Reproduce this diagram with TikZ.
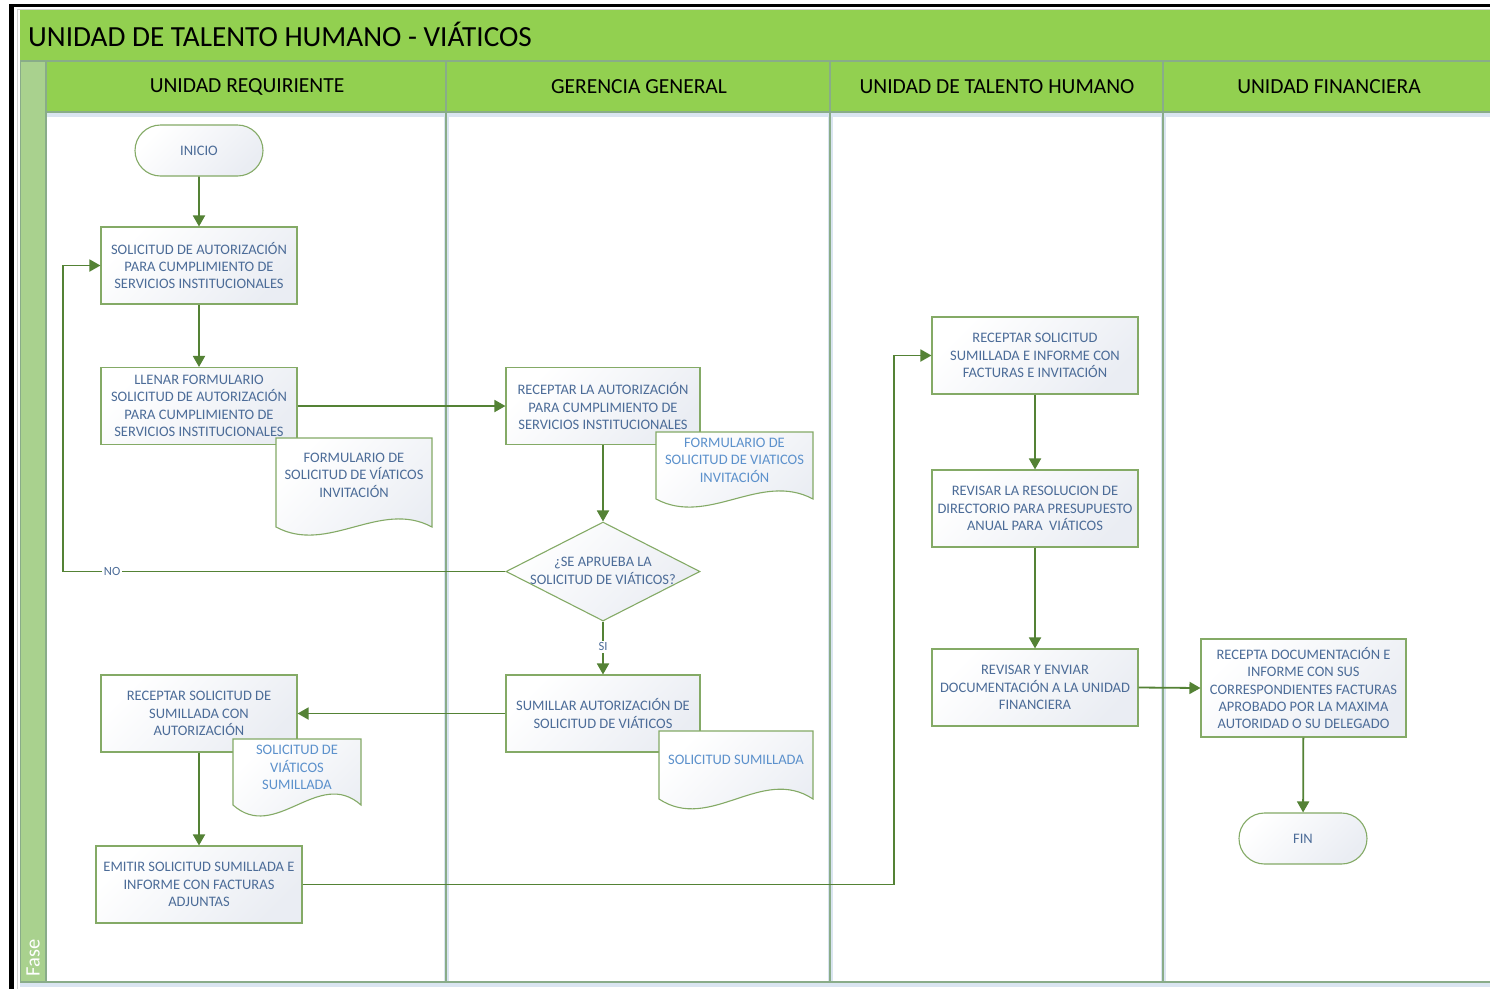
\documentclass[tikz,border=0pt]{standalone}
\usepackage{fontspec}
\setmainfont{Carlito}
\usetikzlibrary{arrows.meta,shapes.geometric,shapes.misc}

\definecolor{titlegreen}{RGB}{146,208,80}
\definecolor{stripgreen}{RGB}{169,209,142}
\definecolor{laneline}{RGB}{137,172,137}
\definecolor{laneglow}{RGB}{218,229,241}
\definecolor{boxline}{RGB}{132,170,102}
\definecolor{boxgray}{RGB}{234,237,243}
\definecolor{boxtext}{RGB}{76,108,152}
\definecolor{doctext}{RGB}{92,145,204}
\definecolor{flowgreen}{RGB}{84,130,53}

\newcommand{\boxfont}{\fontsize{14.5}{17.4}\selectfont}
% document symbol: left x, right x, top y, wave base y, wave depth
\newcommand{\wavedoc}[5]{%
  \path[docshape] (#1,#3) -- (#2,#3) -- (#2,#4)
    .. controls ({#2-(#2-#1)/3},{#4-#5}) and ({#1+(#2-#1)/3},{#4+#5}) .. (#1,#4) -- cycle;}

\begin{document}
\begin{tikzpicture}[x=1pt,y=-1pt,
  proc/.style={draw=boxline, line width=1.1pt, top color=white, bottom color=boxgray,
    shading angle=45, minimum width=196pt, minimum height=77pt, inner sep=0pt,
    align=center, font=\boxfont, text=boxtext},
  term/.style={rounded rectangle, draw=boxline, line width=1.1pt, top color=white,
    bottom color=boxgray, shading angle=45, minimum width=128pt, minimum height=51pt,
    inner sep=0pt, font=\boxfont, text=boxtext},
  decis/.style={diamond, draw=boxline, line width=1.1pt, top color=white,
    bottom color=boxgray, shading angle=45, minimum width=194pt, minimum height=99pt,
    inner sep=0pt},
  docshape/.style={draw=boxline, line width=1.1pt, top color=white, bottom color=boxgray,
    shading angle=45},
  doclabel/.style={align=center, font=\boxfont, text=doctext, inner sep=0pt},
  plain/.style={align=center, font=\boxfont, text=boxtext, inner sep=0pt},
  flow/.style={draw=flowgreen, line width=1.8pt, -{Triangle[length=11pt,width=12pt]}},
  tag/.style={fill=white, inner sep=1.5pt, font=\fontsize{12.5}{14}\selectfont, text=boxtext},
  lanehead/.style={font=\fontsize{21.5}{24}\selectfont, text=black, inner sep=0pt},
  glow/.style={laneglow, line width=5pt},
  lane/.style={laneline, line width=1.8pt}
]
\useasboundingbox (0,0) rectangle (1490,989);
\fill[white] (0,0) rectangle (1490,989);

% outer frame
\fill[black] (9,3.5) rectangle (1490,6.5);
\fill[black] (9,3.5) rectangle (14,989);
\draw[gray!35, line width=0.8pt] (17,989) -- (17,9) -- (1490,9);

% pool bands
\fill[titlegreen] (20,10) rectangle (1490,112);
\fill[stripgreen] (20,61) rectangle (46,982);
\fill[white] (46,112) rectangle (1490,982);

% lane separators and borders
\draw[glow] (46,114) -- (1490,114);
\draw[glow] (20,984) -- (1490,984);
\foreach \lx in {446,830,1163}{
  \draw[glow] (\lx,112) -- (\lx,982);
}
\foreach \lx in {446,830,1163}{
  \draw[lane] (\lx,61) -- (\lx,982);
}
\draw[lane] (20,61) -- (1490,61);
\draw[lane] (46,112) -- (1490,112);
\draw[lane] (20,982) -- (1490,982);
\draw[lane] (46,61) -- (46,982);
\draw[laneline, line width=1pt] (20,61) -- (20,982);

% title and lane headers
\node[anchor=west, font=\fontsize{29.2}{32}\selectfont, inner sep=0pt] (title) at (28,34.5)
  {UNIDAD DE TALENTO HUMANO - VIÁTICOS};
\node[lanehead] (h1) at (247,87) {UNIDAD REQUIRIENTE};
\node[lanehead] (h2) at (639,87) {GERENCIA GENERAL};
\node[lanehead] (h3) at (997,87) {UNIDAD DE TALENTO HUMANO};
\node[lanehead] (h4) at (1329,87) {UNIDAD FINANCIERA};
\node[rotate=90, text=white, font=\fontsize{20.5}{22}\selectfont, inner sep=0pt] (fase) at (33,958) {Fase};

% process steps
\node[term] (inicio) at (199,150.5) {INICIO};
\node[proc] (a1) at (199,265.5) {SOLICITUD DE AUTORIZACIÓN\\PARA CUMPLIMIENTO DE\\SERVICIOS INSTITUCIONALES};
\node[proc] (a2) at (199,406) {LLENAR FORMULARIO\\SOLICITUD DE AUTORIZACIÓN\\PARA CUMPLIMIENTO DE\\SERVICIOS INSTITUCIONALES};
\node[proc, minimum width=194pt] (g1) at (603,406) {RECEPTAR LA AUTORIZACIÓN\\PARA CUMPLIMIENTO DE\\SERVICIOS INSTITUCIONALES};
\node[decis] (dec) at (603,571.5) {};
\node[plain] (dectext) at (603,571) {¿SE APRUEBA LA\\SOLICITUD DE VIÁTICOS?};
\node[proc, minimum width=194pt] (g2) at (603,713.5) {SUMILLAR AUTORIZACIÓN DE\\SOLICITUD DE VIÁTICOS};
\node[proc] (a3) at (199,713.5) {RECEPTAR SOLICITUD DE\\SUMILLADA CON\\AUTORIZACIÓN};
\node[proc, minimum width=206pt] (a4) at (199,884.5) {EMITIR SOLICITUD SUMILLADA E\\INFORME CON FACTURAS\\ADJUNTAS};
\node[proc, minimum width=206pt] (t1) at (1035,355.5) {RECEPTAR SOLICITUD\\SUMILLADA E INFORME CON\\FACTURAS E INVITACIÓN};
\node[proc, minimum width=206pt] (t2) at (1035,508.5) {REVISAR LA RESOLUCION DE\\DIRECTORIO PARA PRESUPUESTO\\ANUAL PARA\ \ VIÁTICOS};
\node[proc, minimum width=206pt] (t3) at (1035,687.5) {REVISAR Y ENVIAR\\DOCUMENTACIÓN A LA UNIDAD\\FINANCIERA};
\node[proc, minimum width=205pt, minimum height=98pt] (f1) at (1303.5,688) {RECEPTA DOCUMENTACIÓN E\\INFORME CON SUS\\CORRESPONDIENTES FACTURAS\\APROBADO POR LA MAXIMA\\AUTORIDAD O SU DELEGADO};
\node[term] (fin) at (1303,838.5) {FIN};

% documents
\wavedoc{276}{432}{438}{527}{28}
\node[plain] (d1) at (354,475) {FORMULARIO DE\\SOLICITUD DE VÍATICOS\\INVITACIÓN};
\wavedoc{656}{813}{432}{499}{28}
\node[doclabel] (d2) at (734.5,460) {FORMULARIO DE\\SOLICITUD DE VIATICOS\\INVITACIÓN};
\wavedoc{659}{813}{731}{799}{34}
\node[doclabel] (d3) at (736,760) {SOLICITUD SUMILLADA};
\wavedoc{233}{361}{739}{805}{38}
\node[doclabel] (d4) at (297,767.5) {SOLICITUD DE\\VIÁTICOS\\SUMILLADA};

% connectors
\coordinate (nocorner) at (63,571.5);
\coordinate (rcorner) at (894,884.5);
\draw[flow] (inicio) -- (a1);
\draw[flow] (a1) -- (a2);
\draw[flow] (a2.east) -- (g1.west);
\draw[flow] (g1) -- (dec);
\draw[flow] (dec.west) -- node[tag, pos=0.889] (nolab) {NO} (nocorner) |- (a1.west);
\draw[flow] (dec.south) -- node[tag, pos=0.48] (silab) {SI} (g2.north);
\draw[flow] (g2.west) -- (a3.east);
\draw[flow] (a3) -- (a4);
\draw[flow] (a4.east) -- (rcorner) |- (t1.west);
\draw[flow] (t1) -- (t2);
\draw[flow] (t2) -- (t3);
\draw[flow] (t3.east) -- (f1.west);
\draw[flow] (f1) -- (fin);
\end{tikzpicture}
\end{document}
